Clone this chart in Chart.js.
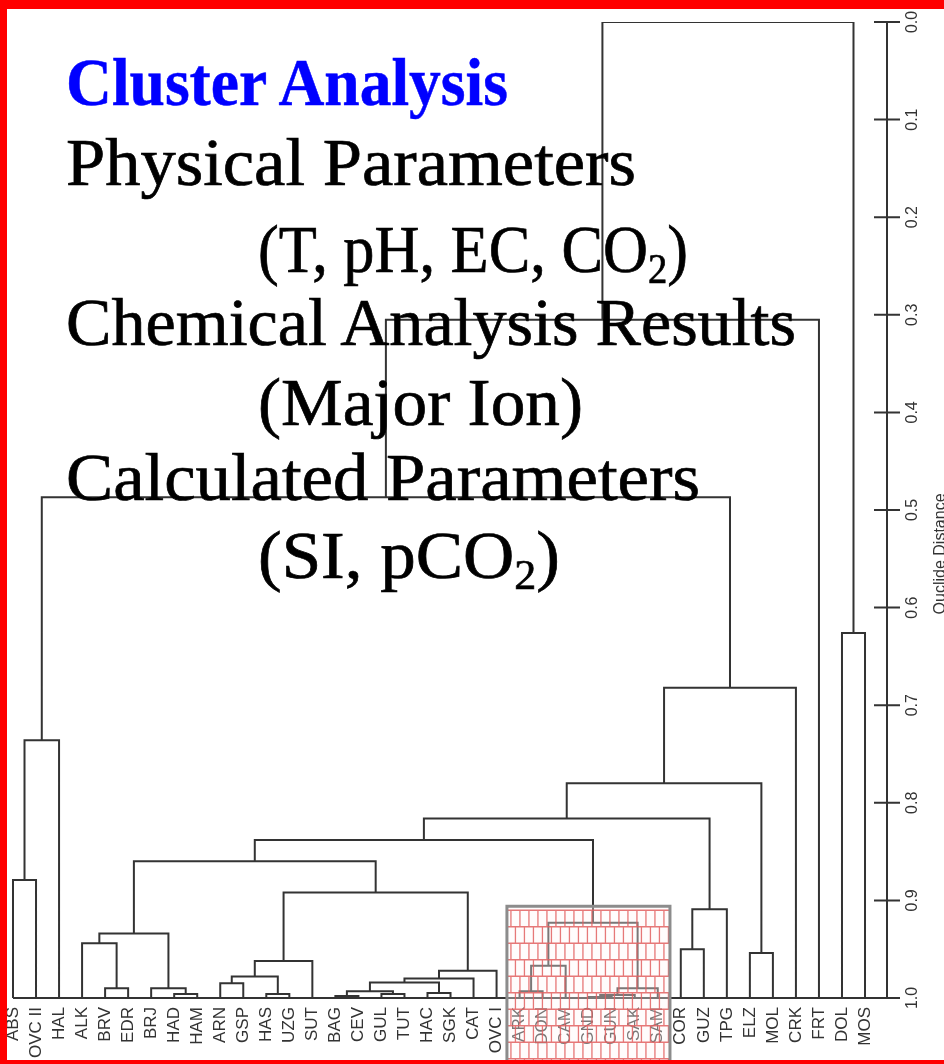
<!DOCTYPE html>
<html lang="en">
<head>
    <meta charset="UTF-8">
    <title>Cluster Analysis</title>
    <script src="https://cdn.jsdelivr.net/npm/chart.js"></script>
    <style>
        body { margin: 0; background: #fff; }
        .frame { position: relative; width: 944px; height: 1064px; overflow: hidden; background: #fff; }
        #dendro { position: absolute; left: 0; top: 0; }
        .caption {
            position: absolute;
            white-space: nowrap;
            font-family: 'Liberation Serif', serif;
            font-size: 68px;
            line-height: 1;
            color: #000;
            -webkit-text-stroke: 0.7px #000;
            transform-origin: 0 0;
        }
        .caption.head { color: #0000ff; font-weight: bold; -webkit-text-stroke: 0.5px #0000ff; }
        .caption sub { font-size: 0.62em; vertical-align: -0.25em; line-height: 0; }
        .border {
            position: absolute; left: 0; top: 0; width: 944px; height: 1064px;
            box-sizing: border-box;
            border-top: 9px solid #ff0000;
            border-left: 7px solid #ff0000;
            border-bottom: 4px solid #ff0000;
            pointer-events: none;
        }
    </style>
</head>
<body>
<div class="frame">
    <canvas id="dendro" width="944" height="1064"></canvas>
    <div id="captions"></div>
    <div class="border"></div>
</div>

<script>
    // sites, left to right along the bottom
    const leafLabels = ['ABS', 'OVC II', 'HAL', 'ALK', 'BRV', 'EDR', 'BRJ', 'HAD', 'HAM', 'ARN',
        'GSP', 'HAS', 'UZG', 'SUT', 'BAG', 'CEV', 'GUL', 'TUT', 'HAC', 'SGK',
        'CAT', 'OVC I', 'ARK', 'DON', 'CAM', 'GND', 'GUN', 'SAK', 'SAM', 'COR',
        'GUZ', 'TPG', 'ELZ', 'MOL', 'CRK', 'FRT', 'DOL', 'MOS'];

    // merge table (hclust style): negative = leaf number, positive = earlier merge number
    const mergeLeft = [-1, 1, -5, -4, -8, -7, 4, -10, -12, 8,
        10, -15, -17, 12, -19, 14, 16, 17, 11, 7,
        -23, 21, -26, 23, 24, 22, 20, -30, 28, 27,
        -33, 30, 32, 2, 34, -37, 35];
    const mergeRight = [-2, -3, -6, 3, -9, 5, 6, -11, -13, 9,
        -14, -16, -18, 13, -20, 15, -21, -22, 18, 19,
        -24, -25, -27, -28, -29, 25, 26, -31, -32, 29,
        -34, 31, -35, 33, -36, -38, 36];
    const mergeHeight = [0.879, 0.736, 0.990, 0.944, 0.996, 0.990, 0.934, 0.985, 0.996, 0.978,
        0.962, 0.998, 0.996, 0.993, 0.995, 0.984, 0.980, 0.972, 0.892, 0.860,
        0.993, 0.967, 0.999, 0.997, 0.990, 0.923, 0.838, 0.950, 0.909, 0.816,
        0.954, 0.780, 0.682, 0.487, 0.305, 0.626, 0.000];

    const leafHeight = 1.0;
    const distTicks = [0, 0.1, 0.2, 0.3, 0.4, 0.5, 0.6, 0.7, 0.8, 0.9, 1.0];
    const axisTitle = 'Ouclide Distance';
    // leaves sitting in the hatched box
    const boxedFirst = 'ARK';
    const boxedLast = 'SAM';

    // walk the merge table: node position = midpoint of its two children
    const nodeX = [];
    const segments = [];
    function nodeInfo(id) {
        if (id < 0) return { x: -id, h: leafHeight };
        return { x: nodeX[id - 1], h: mergeHeight[id - 1] };
    }
    for (let i = 0; i < mergeHeight.length; i++) {
        const a = nodeInfo(mergeLeft[i]);
        const b = nodeInfo(mergeRight[i]);
        const h = mergeHeight[i];
        nodeX.push((a.x + b.x) / 2);
        segments.push({ x: a.x, y: a.h }, { x: a.x, y: h }, { x: b.x, y: h }, { x: b.x, y: b.h }, { x: b.x, y: null });
    }

    const dendroAxes = {
        id: 'dendroAxes',
        afterDatasetsDraw(chart) {
            const { ctx, chartArea, scales: { x, y } } = chart;
            const axisX = chartArea.right;
            const base = y.getPixelForValue(leafHeight);
            ctx.save();
            ctx.strokeStyle = '#333';
            ctx.lineWidth = 2;

            // baseline under the leaves, running into the axis
            ctx.beginPath();
            ctx.moveTo(x.getPixelForValue(1), base);
            ctx.lineTo(axisX, base);
            // distance axis with ticks crossing it
            ctx.moveTo(axisX, y.getPixelForValue(distTicks[0]));
            ctx.lineTo(axisX, y.getPixelForValue(distTicks[distTicks.length - 1]));
            distTicks.forEach(t => {
                const py = y.getPixelForValue(t);
                ctx.moveTo(axisX - 13, py);
                ctx.lineTo(axisX + 13, py);
            });
            ctx.stroke();

            ctx.fillStyle = '#333';
            ctx.font = '16px "Liberation Sans", Arial, sans-serif';
            ctx.textAlign = 'center';
            ctx.textBaseline = 'middle';
            distTicks.forEach(t => {
                ctx.save();
                ctx.translate(axisX + 26, y.getPixelForValue(t));
                ctx.rotate(-Math.PI / 2);
                ctx.fillText(t.toFixed(1), 0, 0);
                ctx.restore();
            });
            ctx.save();
            ctx.translate(axisX + 54, y.getPixelForValue(0.545));
            ctx.rotate(-Math.PI / 2);
            ctx.fillText(axisTitle, 0, 0);
            ctx.restore();

            // leaf names, reading upwards
            ctx.font = '17px "Liberation Sans", Arial, sans-serif';
            ctx.textAlign = 'right';
            leafLabels.forEach((name, i) => {
                ctx.save();
                ctx.translate(x.getPixelForValue(i + 1), base + 9);
                ctx.rotate(-Math.PI / 2);
                ctx.fillText(name, 0, 0);
                ctx.restore();
            });
            ctx.restore();
        },
        afterDraw(chart) {
            // brick-hatched box over the ARK..SAM group
            const { ctx, scales: { x, y } } = chart;
            const left = x.getPixelForValue(leafLabels.indexOf(boxedFirst) + 1 - 0.55);
            const right = x.getPixelForValue(leafLabels.indexOf(boxedLast) + 1 + 0.53);
            const top = y.getPixelForValue(0.906);
            const bottom = chart.height;
            ctx.save();
            ctx.beginPath();
            ctx.rect(left, top, right - left, bottom - top);
            ctx.clip();
            ctx.fillStyle = 'rgba(255, 245, 245, 0.35)';
            ctx.fillRect(left, top, right - left, bottom - top);
            ctx.strokeStyle = 'rgba(226, 96, 96, 0.85)';
            ctx.lineWidth = 1.3;
            ctx.beginPath();
            const bw = 9, bh = 16.5;
            for (let r = 0; top + r * bh < bottom; r++) {
                const ry = top + 4 + r * bh;
                ctx.moveTo(left, ry);
                ctx.lineTo(right, ry);
                const shift = r % 2 ? bw / 2 : 0;
                for (let cx = left + 4 + shift; cx < right; cx += bw) {
                    ctx.moveTo(cx, ry);
                    ctx.lineTo(cx, ry + bh);
                }
            }
            ctx.stroke();
            ctx.restore();
            ctx.save();
            ctx.strokeStyle = '#8c8c8c';
            ctx.lineWidth = 3;
            ctx.strokeRect(left, top, right - left, bottom - top + 10);
            ctx.restore();
        }
    };

    const chart = new Chart(document.getElementById('dendro').getContext('2d'), {
        type: 'line',
        data: {
            datasets: [{
                data: segments,
                borderColor: '#333',
                borderWidth: 2,
                pointRadius: 0,
                tension: 0,
                spanGaps: false,
                borderJoinStyle: 'miter'
            }]
        },
        options: {
            responsive: false,
            animation: false,
            layout: { padding: { left: 8, right: 57, top: 22, bottom: 66 } },
            plugins: { legend: { display: false }, tooltip: { enabled: false } },
            scales: {
                x: { type: 'linear', min: 0.783, max: 38.955, display: false },
                y: { min: 0, max: 1, reverse: true, display: false }
            }
        },
        plugins: [dendroAxes]
    });

    // text block in the upper left; each line stretched to its measured span
    const captionLines = [
        { html: 'Cluster Analysis', left: 66, right: 508, base: 105, head: true },
        { html: 'Physical Parameters', left: 66, right: 636, base: 185 },
        { html: '(T, pH, EC, CO<sub>2</sub>)', left: 258, right: 688, base: 272 },
        { html: 'Chemical Analysis Results', left: 66, right: 796, base: 345 },
        { html: '(Major Ion)', left: 258, right: 583, base: 425 },
        { html: 'Calculated Parameters', left: 66, right: 700, base: 500 },
        { html: '(SI, pCO<sub>2</sub>)', left: 258, right: 560, base: 578 }
    ];
    const holder = document.getElementById('captions');
    captionLines.forEach(line => {
        const el = document.createElement('div');
        el.className = 'caption' + (line.head ? ' head' : '');
        el.innerHTML = line.html;
        holder.appendChild(el);
        const probe = document.createElement('span');
        probe.style.display = 'inline-block';
        probe.style.width = '0';
        probe.style.height = '0';
        el.appendChild(probe);
        const baseOffset = probe.offsetTop;
        el.removeChild(probe);
        const width = el.getBoundingClientRect().width;
        el.style.left = line.left + 'px';
        el.style.top = (line.base - baseOffset) + 'px';
        el.style.transform = 'scaleX(' + ((line.right - line.left) / width) + ')';
    });
</script>
</body>
</html>
